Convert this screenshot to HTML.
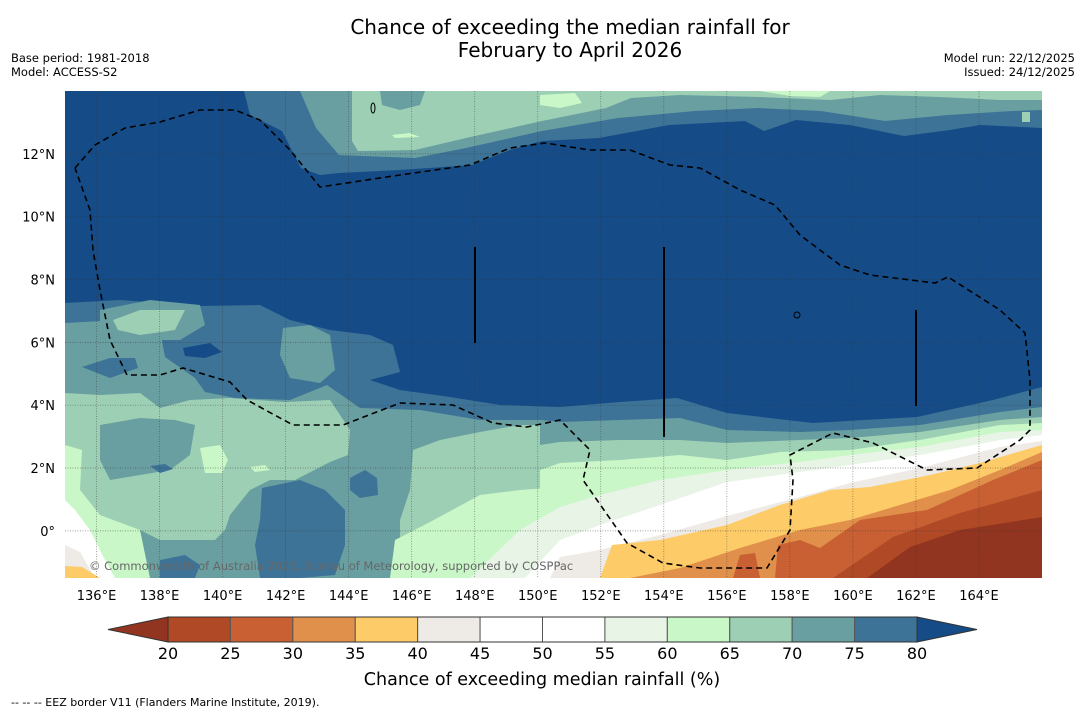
<!DOCTYPE html>
<html><head><meta charset="utf-8">
<style>
html,body{margin:0;padding:0;background:#fff;}
body{width:1085px;height:713px;overflow:hidden;position:relative;font-family:"DejaVu Sans","Liberation Sans",sans-serif;}
svg text{font-family:"DejaVu Sans","Liberation Sans",sans-serif;}
</style></head>
<body>
<svg id="chart" width="1085" height="713" viewBox="0 0 1085 713" xmlns="http://www.w3.org/2000/svg">
<defs><clipPath id="mapclip"><rect x="65" y="91" width="977" height="487"/></clipPath></defs>
<text x="570" y="34" font-size="20" text-anchor="middle" fill="#000">Chance of exceeding the median rainfall for</text>
<text x="570" y="57" font-size="20" text-anchor="middle" fill="#000">February to April 2026</text>
<text x="11" y="62" font-size="11.5">Base period: 1981-2018</text>
<text x="11" y="76" font-size="11.5">Model: ACCESS-S2</text>
<text x="1075" y="62" font-size="11.5" text-anchor="end">Model run: 22/12/2025</text>
<text x="1075" y="76" font-size="11.5" text-anchor="end">Issued: 24/12/2025</text>

<g id="map" clip-path="url(#mapclip)" stroke="none">
<rect x="65" y="91" width="977" height="487" fill="#154c88"/>
<polygon fill="#3d7396" points="244,91 250,115 282,131 301,168 320,175 339,173 400,170 472,165 510,150 542,141 599,138 669,125 745,121 764,131 796,120 850,125 904,136 950,130 980,125 1042,128 1042,91"/>
<polygon fill="#6a9fa1" points="300,91 316,128 339,155 415,158 466,148 542,131 618,118 695,111 758,108 821,111 885,121 948,115 1012,111 1042,110 1042,91"/>
<polygon fill="#9dcfb5" points="352,91 352,141 358,151 415,150 466,138 542,121 606,108 631,98 680,95 760,97 830,100 880,95 940,97 1000,100 1042,100 1042,91"/>
<polygon fill="#6a9fa1" points="380,91 382,105 400,110 420,105 425,91"/>
<polygon fill="#c9f7c7" points="540,95 575,93 582,103 560,108 540,105"/>
<polygon fill="#c9f7c7" points="392,135 410,133 420,137 395,138"/>
<polygon fill="#c9f7c7" points="760,91 830,91 820,97 790,96"/>
<polygon fill="#9dcfb5" points="1022,112 1030,112 1030,122 1022,122"/>
<polygon fill="#3d7396" points="65,303 120,300 200,306 260,305 290,320 330,330 370,335 393,345 400,372 370,380 400,390 450,397 500,405 560,407 620,402 677,398 727,413 813,423 917,417 993,400 1042,387 1042,578 65,578"/>
<polygon fill="#6a9fa1" points="65,323 120,320 160,330 165,357 195,378 205,392 235,398 290,400 327,385 360,408 420,410 480,420 540,420 560,422 560,578 65,578"/>
<polygon fill="#6a9fa1" points="283,328 310,325 330,335 335,370 320,383 290,378 280,355"/>
<polygon fill="#6a9fa1" points="100,310 150,300 200,305 205,325 180,340 130,340 100,330"/>
<polygon fill="#9dcfb5" points="113,320 140,310 185,310 175,330 140,335 118,330"/>
<polygon fill="#154c88" points="183,348 210,343 222,352 205,358 185,356"/>
<polygon fill="#3d7396" points="82,367 110,358 135,358 138,368 110,378"/>
<polygon fill="#9dcfb5" points="65,393 100,395 140,393 160,408 190,400 230,398 285,402 330,400 350,430 348,455 330,462 295,480 270,480 250,490 230,515 225,530 215,540 160,540 140,530 100,520 80,510 65,500"/>
<polygon fill="#6a9fa1" points="100,425 140,418 175,420 195,425 190,455 170,470 140,475 110,480 100,460"/>
<polygon fill="#9dcfb5" points="413,450 440,440 480,432 520,425 560,425 560,578 400,578 400,520 410,490"/>
<polygon fill="#3d7396" points="262,488 300,480 325,490 345,510 345,545 335,575 300,578 260,578 255,545 260,520"/>
<polygon fill="#3d7396" points="350,478 365,470 377,478 378,495 360,498 350,490"/>
<polygon fill="#3d7396" points="160,560 185,555 200,565 195,578 160,578"/>
<polygon fill="#3d7396" points="150,466 165,464 173,469 160,473"/>
<polygon fill="#c9f7c7" points="65,445 82,450 80,490 100,515 140,530 150,578 65,578"/>
<polygon fill="#c9f7c7" points="200,448 220,445 228,460 222,473 205,473"/>
<polygon fill="#c9f7c7" points="250,467 265,465 270,470 255,472"/>
<polygon fill="#c9f7c7" points="395,540 430,522 480,495 520,490 560,487 560,578 390,578"/>
<polygon fill="#ffffff" points="65,500 75,510 90,530 105,560 115,578 65,578"/>
<polygon fill="#eeeae5" points="65,545 80,552 95,578 65,578"/>
<polygon fill="#fdcb67" points="65,566 82,567 100,578 65,578"/>
<g id="bands"></g>
</g>

<g id="grid" clip-path="url(#mapclip)"></g>

<g clip-path="url(#mapclip)" fill="none" stroke="#000" stroke-width="1.6" stroke-dasharray="6,4">
<polyline points="75,168 95,145 125,128 160,122 200,110 235,110 260,120 290,150 320,187 400,175 470,165 510,148 545,143 590,150 630,150 670,165 700,168 740,190 775,205 800,235 840,265 870,275 935,283 948,277 1000,310 1025,333 1030,380 1030,430 1020,440 977,468 927,470 873,443 833,433 790,455 793,480 790,530 767,568 700,568 663,563 627,543 583,480 590,450 560,420 527,427 493,423 453,405 400,403 343,425 293,425 247,400 230,382 183,368 160,375 127,375 110,340 100,290 93,250 90,210 75,168"/>
</g>
<g stroke="#000" stroke-width="2">
<line x1="475" y1="247" x2="475" y2="343"/>
<line x1="664" y1="247" x2="664" y2="437"/>
<line x1="916" y1="310" x2="916" y2="406"/>
<ellipse cx="373" cy="108" rx="2" ry="5" fill="none" stroke-width="1"/>
<ellipse cx="797" cy="315" rx="3" ry="3" fill="none" stroke-width="1"/>
</g>
<text x="89" y="570" font-size="11.5" fill="#666">© Commonwealth of Australia 2025, Bureau of Meteorology, supported by COSPPac</text>
<g id="xticks"></g>
<g id="yticks"></g>
<g id="cbar"></g>
<text x="542" y="685" font-size="17.5" text-anchor="middle">Chance of exceeding median rainfall (%)</text>
<text x="11" y="706" font-size="11">--  --  -- EEZ border V11 (Flanders Marine Institute, 2019).</text>
</svg>
<script>
const lonTicks=[136,138,140,142,144,146,148,150,152,154,156,158,160,162,164];
const latTicks=[0,2,4,6,8,10,12];
const cbarLevels=[20,25,30,35,40,45,50,55,60,65,70,75,80];
const cbarColors=["#b04a26","#c96033","#e0904a","#fdcb67","#eeeae5","#ffffff","#ffffff","#e8f4e6","#c9f7c7","#9dcfb5","#6a9fa1","#3d7396"];
const underColor="#923520", overColor="#154c88";
const bandColors=["#6a9fa1","#9dcfb5","#c9f7c7","#e8f4e6","#ffffff","#eeeae5","#fdcb67","#e0904a","#c96033","#b04a26","#923520"];
const bandLines=[
"540,420 560,422 620,420 680,418 727,430 800,432 850,430 920,425 1000,412 1042,407",
"540,445 560,442 620,440 680,440 727,443 800,440 850,438 920,432 1000,420 1042,417",
"540,470 560,463 620,460 680,455 727,460 780,452 850,450 920,440 1000,425 1042,423",
"470,578 520,530 560,507 600,495 660,480 727,470 800,462 850,455 920,447 1000,432 1042,430",
"525,578 560,540 600,525 660,505 727,482 800,472 850,465 920,455 1000,440 1042,435",
"550,578 560,557 600,550 660,535 727,516 800,497 850,483 920,468 1000,447 1042,441",
"600,578 612,545 660,540 727,525 780,505 830,490 870,487 930,475 980,463 1042,445",
"630,578 680,568 740,548 800,530 850,520 900,505 950,490 1000,470 1042,452",
"775,578 778,545 800,540 820,548 860,520 927,510 993,480 1042,460",
"833,578 893,537 960,513 1042,490",
"867,578 910,547 960,530 1042,517"];
const NS="http://www.w3.org/2000/svg";
const X0=65,X1=1042,Y0=91,Y1=578;
const lonMin=135,lonMax=166,latMin=-1.5,latMax=14;
function xLon(l){return X0+(l-lonMin)/(lonMax-lonMin)*(X1-X0);}
function yLat(l){return Y1-(l-latMin)/(latMax-latMin)*(Y1-Y0);}
function mk(tag,attrs,parent){const e=document.createElementNS(NS,tag);for(const k in attrs)e.setAttribute(k,attrs[k]);parent.appendChild(e);return e;}
const bands=document.getElementById('bands');
bandLines.forEach((ln,i)=>{
  const p=mk('polygon',{points:ln+" 1042,578 "+ln.split(' ')[0].split(',')[0]+",578",fill:bandColors[i]},bands);
  
  
});
const p1=mk('polygon',{points:"733,578 740,555 755,553 760,578",fill:"#c96033"},bands);


const grid=document.getElementById('grid');
lonTicks.forEach(l=>{const g=mk('line',{x1:xLon(l),x2:xLon(l),y1:Y0,y2:Y1,stroke:"#333","stroke-width":0.7,"stroke-dasharray":"1,1.5",opacity:0.6},grid);

});
latTicks.forEach(l=>{const g=mk('line',{x1:X0,x2:X1,y1:yLat(l),y2:yLat(l),stroke:"#333","stroke-width":0.7,"stroke-dasharray":"1,1.5",opacity:0.6},grid);

});
const xt=document.getElementById('xticks');
lonTicks.forEach(l=>{const t=mk('text',{x:xLon(l),y:600,"font-size":13,"text-anchor":"middle"},xt);t.textContent=l+"°E";

});
const yt=document.getElementById('yticks');
latTicks.forEach(l=>{const t=mk('text',{x:55,y:yLat(l)+5,"font-size":13,"text-anchor":"end"},yt);t.textContent=l===0?"0°":l+"°N";

});
const cb=document.getElementById('cbar');
const CX0=168,CX1=917,CY=617,CH=25;
function xC(v){return CX0+(v-cbarLevels[0])/(cbarLevels[cbarLevels.length-1]-cbarLevels[0])*(CX1-CX0);}
const tl=mk('polygon',{points:`${CX0},${CY} ${CX0},${CY+CH} 108,${CY+CH/2}`,fill:underColor,stroke:"#333","stroke-width":1},cb);


const tr=mk('polygon',{points:`${CX1},${CY} ${CX1},${CY+CH} 977,${CY+CH/2}`,fill:overColor,stroke:"#333","stroke-width":1},cb);


cbarColors.forEach((c,i)=>{const r=mk('rect',{x:xC(cbarLevels[i]),y:CY,width:xC(cbarLevels[i+1])-xC(cbarLevels[i]),height:CH,fill:c,stroke:"#555","stroke-width":1},cb);

});
mk('rect',{x:CX0,y:CY,width:CX1-CX0,height:CH,fill:"none",stroke:"#333","stroke-width":1},cb);
cbarLevels.forEach(v=>{const t=mk('text',{x:xC(v),y:659,"font-size":16,"text-anchor":"middle"},cb);t.textContent=v;

});
</script>
</body></html>
